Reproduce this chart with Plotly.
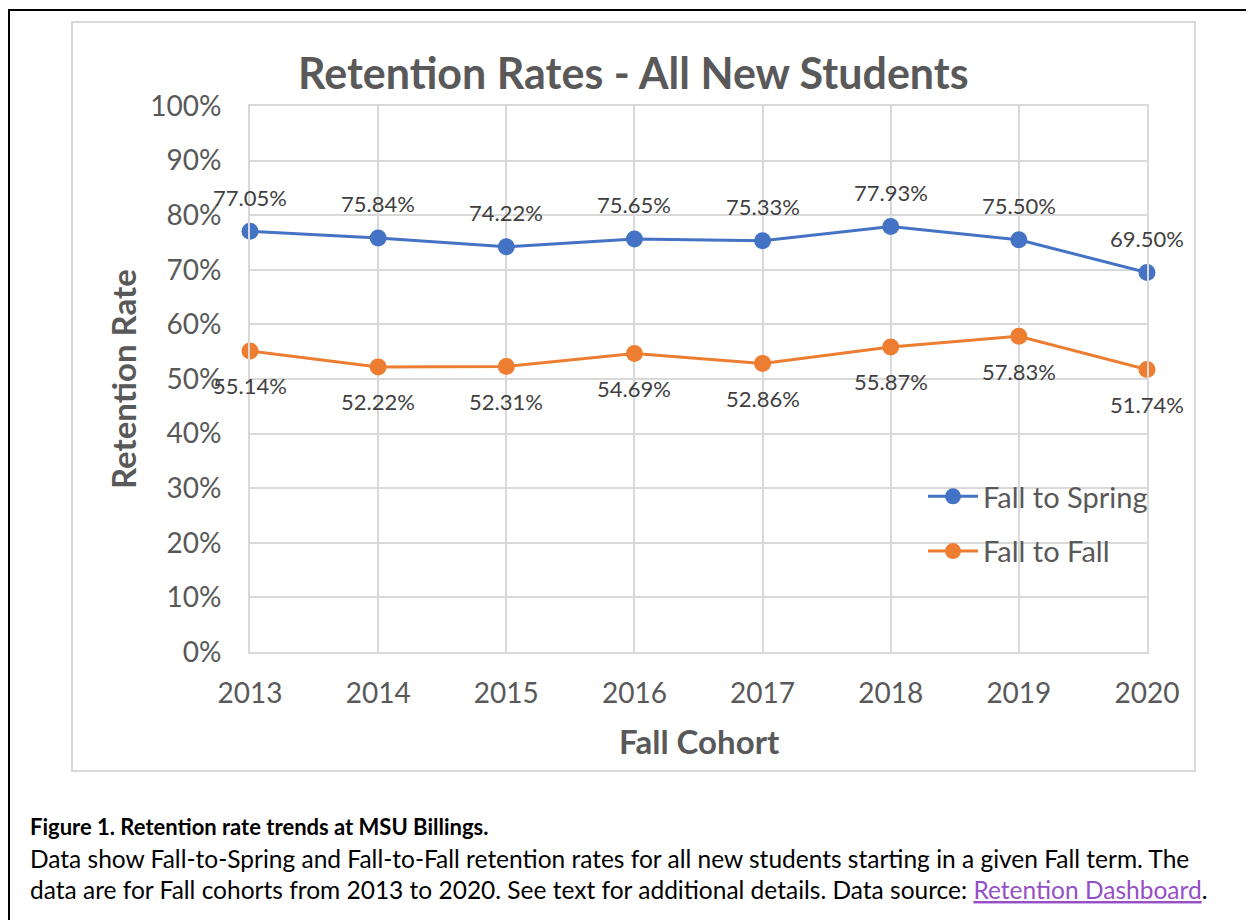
import plotly.graph_objects as go

# ---------------- data ----------------
years = [2013, 2014, 2015, 2016, 2017, 2018, 2019, 2020]
fall_to_spring = [77.05, 75.84, 74.22, 75.65, 75.33, 77.93, 75.50, 69.50]
fall_to_fall = [55.14, 52.22, 52.31, 54.69, 52.86, 55.87, 57.83, 51.74]
y_ticks = [0, 10, 20, 30, 40, 50, 60, 70, 80, 90, 100]

title_text = "Retention Rates - All New Students"
x_title = "Fall Cohort"
y_title = "Retention Rate"
caption_bold = "Figure 1. Retention rate trends at MSU Billings."
caption_line2 = ("Data show Fall-to-Spring and Fall-to-Fall retention rates for all new "
                 "students starting in a given Fall term. The")
caption_line3 = "data are for Fall cohorts from 2013 to 2020. See text for additional details. Data source: "
link_text = "Retention Dashboard"

# ---------------- layout geometry (page pixels) ----------------
OFF = 8                      # default body margin of the html page
W, H = 1254 - OFF, 920 - OFF
PL, PR, PT, PB = 250, 1147, 106, 652   # plot area in page pixels


def fx(px):
    return (px - PL) / (PR - PL)


def fy(py):
    return (PB - py) / (PB - PT)


FONT = "Lato, 'Open Sans', sans-serif"
BLUE = "#4472C4"
ORANGE = "#ED7D31"
GRID = "#D9D9D9"
TXT = "#595959"
LBL = "#404040"

fig = go.Figure()
fig.add_trace(go.Scatter(
    x=years, y=fall_to_spring, name="Fall to Spring", mode="lines+markers",
    line=dict(color=BLUE, width=3), marker=dict(color=BLUE, size=17),
    legendgroup="a", cliponaxis=False,
))
fig.add_trace(go.Scatter(
    x=years, y=fall_to_fall, name="Fall to Fall", mode="lines+markers",
    line=dict(color=ORANGE, width=3), marker=dict(color=ORANGE, size=17),
    legendgroup="b", cliponaxis=False,
))

annotations = []
for xv, yv in zip(years, fall_to_spring):
    annotations.append(dict(x=xv, y=yv, xref="x", yref="y", text=f"{yv:.2f}%",
                            showarrow=False, yshift=34,
                            font=dict(family=FONT, size=22, color=LBL)))
for xv, yv in zip(years, fall_to_fall):
    annotations.append(dict(x=xv, y=yv, xref="x", yref="y", text=f"{yv:.2f}%",
                            showarrow=False, yshift=-35,
                            font=dict(family=FONT, size=22, color=LBL)))

# title
annotations.append(dict(x=fx(633), y=fy(72), xref="paper", yref="paper",
                        text=f"<b>{title_text}</b>", showarrow=False,
                        xanchor="center", yanchor="middle",
                        font=dict(family=FONT, size=43, color=TXT)))
# axis titles
annotations.append(dict(x=fx(699), y=fy(741), xref="paper", yref="paper",
                        text=f"<b>{x_title}</b>", showarrow=False,
                        xanchor="center", yanchor="middle",
                        font=dict(family=FONT, size=33, color=TXT)))
annotations.append(dict(x=fx(123), y=fy(379), xref="paper", yref="paper",
                        text=f"<b>{y_title}</b>", showarrow=False, textangle=-90,
                        xanchor="center", yanchor="middle",
                        font=dict(family=FONT, size=33, color=TXT)))
# caption
cap_font = dict(family=FONT, size=24.5, color="#000000")
annotations.append(dict(x=fx(28), y=fy(826), xref="paper", yref="paper",
                        text=f"<b>{caption_bold}</b>", showarrow=False,
                        xanchor="left", yanchor="middle",
                        font=dict(family=FONT, size=22, color="#000000")))
annotations.append(dict(x=fx(28), y=fy(858), xref="paper", yref="paper",
                        text=caption_line2, showarrow=False,
                        xanchor="left", yanchor="middle", font=cap_font))
annotations.append(dict(x=fx(28), y=fy(889), xref="paper", yref="paper",
                        text=(caption_line3 +
                              f"<a href='#' style='color:#954FC7'><u>{link_text}</u></a>."),
                        showarrow=False, xanchor="left", yanchor="middle", font=cap_font))

shapes = [
    # outer black frame (left + top visible)
    dict(type="rect", xref="paper", yref="paper",
         x0=fx(9), x1=fx(1280), y0=fy(950), y1=fy(10),
         line=dict(color="#000000", width=2), fillcolor="rgba(0,0,0,0)", layer="below"),
    # chart area frame
    dict(type="rect", xref="paper", yref="paper",
         x0=fx(72), x1=fx(1195), y0=fy(771), y1=fy(22),
         line=dict(color=GRID, width=2), fillcolor="rgba(0,0,0,0)", layer="below"),
]

fig.update_layout(
    width=W, height=H,
    margin=dict(l=PL - OFF, r=W - (PR - OFF), t=PT - OFF, b=H - (PB - OFF), autoexpand=False),
    paper_bgcolor="white", plot_bgcolor="white",
    showlegend=True,
    legend=dict(x=fx(923), y=fy(471), xanchor="left", yanchor="top",
                font=dict(family=FONT, size=29, color=TXT),
                bgcolor="rgba(0,0,0,0)", tracegroupgap=14, itemwidth=50),
    annotations=annotations,
    shapes=shapes,
    font=dict(family=FONT, color=TXT),
)
fig.update_xaxes(range=[2013, 2020], tickmode="array", tickvals=years,
                 ticktext=[str(y) for y in years],
                 showgrid=True, gridcolor=GRID, gridwidth=2,
                 showline=True, linecolor=GRID, linewidth=2, mirror=True,
                 zeroline=False, ticks="", ticklabelstandoff=15,
                 tickfont=dict(family=FONT, size=28, color=TXT))
fig.update_yaxes(range=[0, 100], tickmode="array", tickvals=y_ticks,
                 ticktext=[f"{v}%" for v in y_ticks],
                 showgrid=True, gridcolor=GRID, gridwidth=2,
                 showline=True, linecolor=GRID, linewidth=2, mirror=True,
                 zeroline=False, ticks="", ticklabelstandoff=21,
                 tickfont=dict(family=FONT, size=28, color=TXT))

fig.write_html("out.html")
